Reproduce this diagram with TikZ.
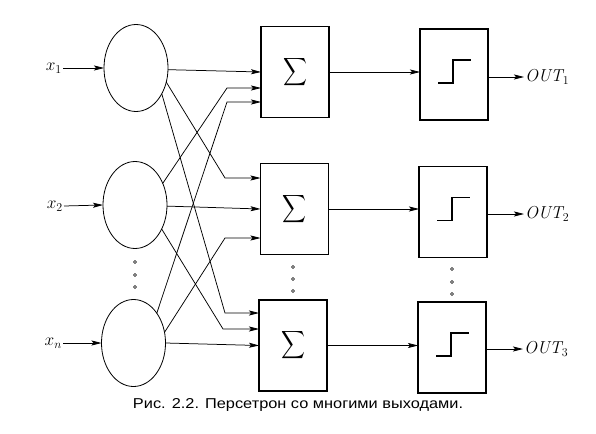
\documentclass[tikz,border=0pt]{standalone}
\usepackage{fontspec}
\usetikzlibrary{shapes.geometric,arrows.meta,calc}
\newfontfamily\capfont{Liberation Sans}
\begin{document}
\begin{tikzpicture}[x=1pt,y=-1pt,
  conn/.style={line width=0.75pt},
  arr/.style={conn,-{Stealth[length=10pt,width=5pt,inset=2pt]}},
  neuron/.style={ellipse,draw,line width=0.8pt,minimum width=64pt,minimum height=87pt,inner sep=0pt,outer sep=0pt},
  blk/.style={rectangle,draw,line width=1.3pt,minimum width=68pt,minimum height=91pt,inner sep=0pt,outer sep=0pt},
  dotm/.style={circle,draw,line width=0.6pt,minimum size=3pt,inner sep=0pt},
  stepline/.style={line width=1.1pt},
  inlbl/.style={font=\LARGE,inner sep=1pt},
  outlbl/.style={font=\LARGE,inner sep=1pt}]
\useasboundingbox (0,0) rectangle (596,433);

% neurons
\node[neuron] (c1) at (136,68) {};
\node[neuron] (c2) at (135,205) {};
\node[neuron] (c3) at (133.5,343) {};

% summators
\node[blk] (s1) at (295,72) {\resizebox*{24pt}{31pt}{$\displaystyle\sum$}};
\node[blk] (s2) at (294.5,209) {\resizebox*{24pt}{31pt}{$\displaystyle\sum$}};
\node[blk] (s3) at (293,345.5) {\resizebox*{24pt}{31pt}{$\displaystyle\sum$}};

% threshold blocks
\node[blk] (t1) at (454,74.5) {};
\node[blk] (t2) at (453,212) {};
\node[blk] (t3) at (452,347.5) {};
\foreach \t in {t1,t2,t3}
  \draw[stepline] ($(\t.center)+(-16,8.5)$) -- ++(15,0) -- ++(0,-23) -- ++(18,0);

% input labels
\node[inlbl,anchor=east] (x1) at (63,68) {$x_1$};
\node[inlbl,anchor=east] (x2) at (64,206) {$x_2$};
\node[inlbl,anchor=east] (xn) at (63,343) {$x_n$};
\draw[arr] (x1.east) -- (c1.west);
\draw[arr] (x2.east) -- (c2.west);
\draw[arr] (xn.east) -- (c3.west);

% output labels
\node[outlbl,anchor=west] (o1) at (524,77) {$\mathit{OUT}_1$};
\node[outlbl,anchor=west] (o2) at (524,214) {$\mathit{OUT}_2$};
\node[outlbl,anchor=west] (o3) at (523,349) {$\mathit{OUT}_3$};
\draw[arr] (t1.east |- o1.west) -- (o1.west);
\draw[arr] (t2.east |- o2.west) -- (o2.west);
\draw[arr] (t3.east |- o3.west) -- (o3.west);

% bend points
\coordinate (b12) at (227,88);
\coordinate (b13) at (227,102);
\coordinate (b21) at (225,178);
\coordinate (b23) at (225,238);
\coordinate (b31) at (225,313);
\coordinate (b32) at (223,329);

% neuron -> summator connections
\draw[arr] (c1.-3) -- (s1.west);
\draw[arr] (c2.38) -- (b12) -- (s1.west |- b12);
\draw[arr] (c3.52) -- (b13) -- (s1.west |- b13);
\draw[arr] (c1.-25) -- (b21) -- (s2.west |- b21);
\draw[arr] (c2.-2) -- (s2.west);
\draw[arr] (c3.19) -- (b23) -- (s2.west |- b23);
\draw[arr] (c1.-45) -- (b31) -- (s3.west |- b31);
\draw[arr] (c2.-42) -- (b32) -- (s3.west |- b32);
\draw[arr] (c3.east) -- (s3.west);

% summator -> threshold
\draw[arr] (s1.east) -- (t1.west |- s1.east);
\draw[arr] (s2.east) -- (t2.west |- s2.east);
\draw[arr] (s3.east) -- (t3.west |- s3.east);

% ellipsis dots
\foreach \y/\n in {262/a,275/b,287/c} \node[dotm] (dc\n) at (135,\y) {};
\foreach \y/\n in {267/a,279/b,291/c} \node[dotm] (ds\n) at (293,\y) {};
\foreach \y/\n in {269/a,282/b,294/c} \node[dotm] (dt\n) at (452,\y) {};

% caption
\node (cap) at (298,405) {\resizebox{330pt}{10pt}{\capfont Рис. 2.2. Персетрон со многими выходами.}};
\end{tikzpicture}
\end{document}
